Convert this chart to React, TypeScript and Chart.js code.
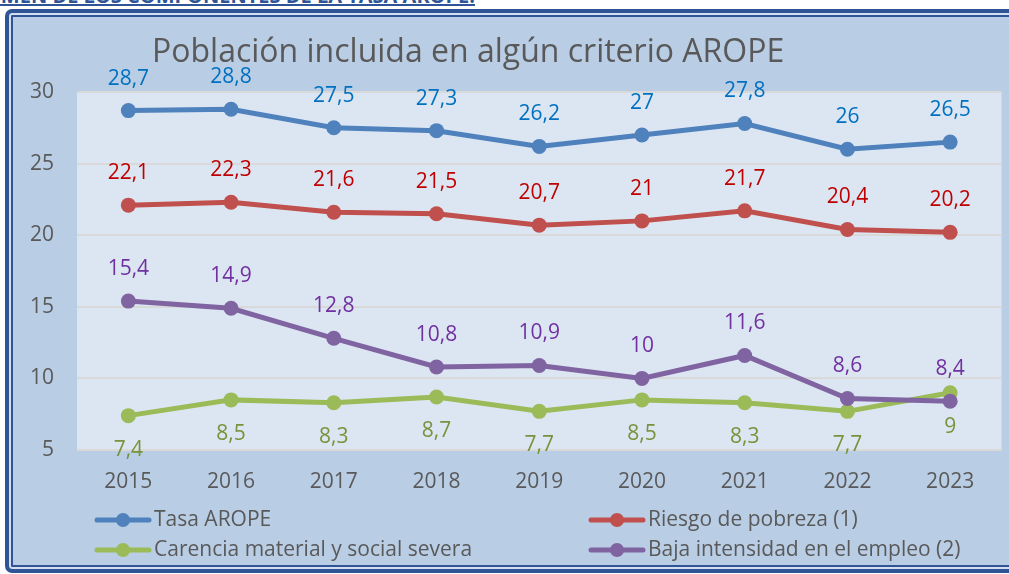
import React, { useEffect, useRef } from "react";
import { Chart, registerables } from "chart.js";

Chart.register(...registerables);

const HEADER = "RESUMEN DE LOS COMPONENTES DE LA TASA AROPE.";
const TITLE = "Población incluida en algún criterio AROPE";
const years = ["2015", "2016", "2017", "2018", "2019", "2020", "2021", "2022", "2023"];
const tasaArope = [28.7, 28.8, 27.5, 27.3, 26.2, 27, 27.8, 26, 26.5];
const riesgoPobreza = [22.1, 22.3, 21.6, 21.5, 20.7, 21, 21.7, 20.4, 20.2];
const carenciaMaterial = [7.4, 8.5, 8.3, 8.7, 7.7, 8.5, 8.3, 7.7, 9];
const bajaIntensidad = [15.4, 14.9, 12.8, 10.8, 10.9, 10, 11.6, 8.6, 8.4];
const seriesNames = [
  "Tasa AROPE",
  "Riesgo de pobreza (1)",
  "Carencia material y social severa",
  "Baja intensidad en el empleo (2)",
];

const FONT = "'Open Sans', 'Noto Sans', sans-serif";
const TEXT = "#595959";

const fmt = (v: number) => String(v).replace(".", ",");

const titlePlugin = {
  id: "customTitle",
  afterDraw(chart: any) {
    const ctx = chart.ctx;
    ctx.save();
    ctx.font = `32px ${FONT}`;
    ctx.fillStyle = TEXT;
    ctx.textAlign = "left";
    ctx.textBaseline = "alphabetic";
    ctx.fillText(TITLE, 152, 62);
    ctx.restore();
  },
};

const labelsPlugin = {
  id: "valueLabels",
  afterDatasetsDraw(chart: any) {
    const ctx = chart.ctx;
    ctx.save();
    ctx.font = `21px ${FONT}`;
    ctx.textAlign = "center";
    ctx.textBaseline = "middle";
    chart.data.datasets.forEach((ds: any, i: number) => {
      const meta = chart.getDatasetMeta(i);
      ctx.fillStyle = ds.labelColor;
      meta.data.forEach((pt: any, j: number) => {
        const off = ds.labelBelow ? 34 : -32;
        ctx.fillText(fmt(ds.data[j]), pt.x, pt.y + off);
      });
    });
    ctx.restore();
  },
};

const legendPlugin = {
  id: "customLegend",
  afterDraw(chart: any) {
    const ctx = chart.ctx;
    const colX = [95, 589];
    const rowY = [520, 550];
    ctx.save();
    chart.data.datasets.forEach((ds: any, i: number) => {
      const x = colX[i % 2];
      const y = rowY[Math.floor(i / 2)];
      ctx.strokeStyle = ds.borderColor;
      ctx.lineWidth = 5;
      ctx.lineCap = "round";
      ctx.beginPath();
      ctx.moveTo(x + 2, y);
      ctx.lineTo(x + 54, y);
      ctx.stroke();
      ctx.fillStyle = ds.borderColor;
      ctx.beginPath();
      ctx.arc(x + 28, y, 7, 0, Math.PI * 2);
      ctx.fill();
      ctx.font = `21px ${FONT}`;
      ctx.fillStyle = TEXT;
      ctx.textAlign = "left";
      ctx.textBaseline = "middle";
      ctx.fillText(ds.label, x + 59, y);
    });
    ctx.restore();
  },
};

const plotBgPlugin = {
  id: "plotBg",
  beforeDraw(chart: any) {
    const { ctx, chartArea } = chart;
    ctx.save();
    ctx.fillStyle = "#dce6f2";
    ctx.fillRect(chartArea.left, chartArea.top, chartArea.right - chartArea.left, chartArea.bottom - chartArea.top);
    ctx.restore();
  },
};

export default function App() {
  const ref = useRef<HTMLCanvasElement>(null);
  useEffect(() => {
    if (!ref.current) return;
    const mk = (label: string, data: number[], color: string, labelColor: string, order: number, labelBelow = false) => ({
      label,
      data,
      borderColor: color,
      backgroundColor: color,
      pointBackgroundColor: color,
      pointBorderColor: color,
      borderWidth: 5,
      pointRadius: 7.5,
      pointBorderWidth: 0,
      tension: 0,
      order,
      labelColor,
      labelBelow,
    });
    const chart = new Chart(ref.current, {
      type: "line",
      data: {
        labels: years,
        datasets: [
          mk(seriesNames[0], tasaArope, "#4f81bd", "#0070c0", 3),
          mk(seriesNames[1], riesgoPobreza, "#c0504d", "#c00000", 2),
          mk(seriesNames[2], carenciaMaterial, "#9bbb59", "#77933c", 1, true),
          mk(seriesNames[3], bajaIntensidad, "#8064a2", "#7030a0", 0),
        ] as any,
      },
      options: {
        animation: false,
        responsive: false,
        layout: { padding: { left: 0, right: 7, top: 92, bottom: 0 } },
        plugins: { legend: { display: false }, title: { display: false }, tooltip: { enabled: false } },
        scales: {
          x: {
            offset: true,
            grid: { display: false, drawTicks: false },
            border: { display: false },
            ticks: { color: TEXT, font: { family: FONT, size: 21 }, padding: 19 },
            afterFit(scale: any) {
              scale.height = 124;
            },
          },
          y: {
            min: 5,
            max: 30,
            ticks: { stepSize: 5, color: TEXT, font: { family: FONT, size: 21 }, padding: 23 },
            grid: { color: "#d9d9d9", lineWidth: 2, drawTicks: false },
            border: { display: false },
            afterFit(scale: any) {
              scale.width = 77;
            },
          },
        },
      } as any,
      plugins: [plotBgPlugin, labelsPlugin, titlePlugin, legendPlugin],
    });
    return () => chart.destroy();
  }, []);

  return (
    <div style={{ position: "fixed", left: 0, top: 0, width: 1009, height: 574, overflow: "hidden", background: "#fff" }}>
      <div
        style={{
          position: "absolute",
          right: 534,
          top: -14,
          whiteSpace: "nowrap",
          fontFamily: FONT,
          fontWeight: 700,
          fontSize: 20,
          lineHeight: "20px",
          color: "#2f5597",
          textDecoration: "underline",
          textDecorationThickness: "2px",
        }}
      >
        {HEADER}
      </div>
      <div
        style={{
          position: "absolute",
          left: 5,
          top: 9,
          width: 1100,
          height: 556,
          border: "4px solid #2f5597",
          borderRadius: 7,
          background: "#b9cde5",
          boxShadow: "inset 0 0 0 2px #d3dff0, inset 0 0 0 4px #2f5597",
        }}
      />
      <canvas ref={ref} width={1009} height={574} style={{ position: "absolute", left: 0, top: 0 }} />
    </div>
  );
}
